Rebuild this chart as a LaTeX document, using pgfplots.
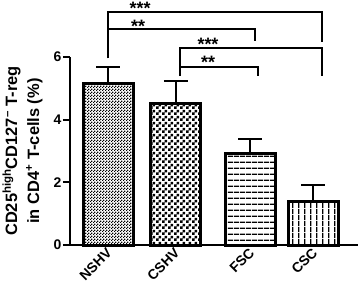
\documentclass[border=0pt]{standalone}
\usepackage{fontspec}
\setmainfont{Liberation Sans}
\usepackage{pgfplots}
\pgfplotsset{compat=1.18}
\usetikzlibrary{patterns.meta}
\pgfdeclarepattern{name=finecheck, type=uncolored, bottom left={\pgfpoint{0bp}{0bp}}, top right={\pgfpoint{3bp}{3bp}}, tile size={\pgfpoint{3bp}{3bp}}, code={\pgfpathrectangle{\pgfpointorigin}{\pgfpoint{1.5bp}{1.5bp}}\pgfpathrectangle{\pgfpoint{1.5bp}{1.5bp}}{\pgfpoint{1.5bp}{1.5bp}}\pgfusepath{fill}}}
\pgfdeclarepattern{name=coarsecheck, type=uncolored, bottom left={\pgfpoint{0bp}{0bp}}, top right={\pgfpoint{6bp}{6bp}}, tile size={\pgfpoint{6bp}{6bp}}, code={\pgfpathrectangle{\pgfpointorigin}{\pgfpoint{3bp}{3bp}}\pgfpathrectangle{\pgfpoint{3bp}{3bp}}{\pgfpoint{3bp}{3bp}}\pgfusepath{fill}}}
\pgfdeclarepattern{name=hlines, type=uncolored, bottom left={\pgfpoint{0bp}{0bp}}, top right={\pgfpoint{6bp}{6bp}}, tile size={\pgfpoint{6bp}{6bp}}, code={\pgfpathrectangle{\pgfpointorigin}{\pgfpoint{6bp}{1.5bp}}\pgfusepath{fill}}}
\pgfdeclarepattern{name=vlines, type=uncolored, bottom left={\pgfpoint{0bp}{0bp}}, top right={\pgfpoint{5.5bp}{5.5bp}}, tile size={\pgfpoint{5.5bp}{5.5bp}}, code={\pgfpathrectangle{\pgfpointorigin}{\pgfpoint{1.6bp}{5.5bp}}\pgfusepath{fill}}}
\begin{document}
\begin{tikzpicture}
\begin{axis}[
  scale only axis, width=288bp, height=188bp,
  xmin=-0.555, xmax=3.65, ymin=0, ymax=6,
  axis lines=left, axis line style={-, line width=2.5bp},
  clip=false,
  ytick={0,2,4,6}, tick align=outside, major tick length=7bp,
  ytick style={line width=2bp, black},
  xtick={0,0.99,2.08,3}, xticklabels={NSHV,CSHV,FSC,CSC},
  xtick style={draw=none},
  yticklabel style={font=\bfseries\fontsize{14}{16}\selectfont, inner sep=1.5bp},
  xticklabel style={font=\bfseries\fontsize{14}{16}\selectfont, rotate=45, anchor=east, inner sep=1bp, xshift=3bp},
  /pgf/number format/assume math mode=true,
  ylabel={CD25\textsuperscript{high}CD127\textsuperscript{--} T-reg\\in CD4\textsuperscript{+} T-cells (\%)},
  ylabel style={align=center, font=\bfseries\fontsize{16.5}{22}\selectfont, inner sep=0pt, at={(axis description cs:-0.095,0.5)}, anchor=south},
]
\addplot[ybar, bar width=0.73, bar shift=0pt, draw=black, line width=3bp, pattern=finecheck,
  error bars/.cd, y dir=plus, y explicit, error bar style={line width=2bp, solid}, error mark options={rotate=90, mark size=12bp, line width=2bp, black}]
  coordinates {(0,5.16) +- (0,0.52)};
\addplot[ybar, bar width=0.73, bar shift=0pt, draw=black, line width=3bp, pattern=coarsecheck,
  error bars/.cd, y dir=plus, y explicit, error bar style={line width=2bp, solid}, error mark options={rotate=90, mark size=12bp, line width=2bp, black}]
  coordinates {(0.99,4.53) +- (0,0.70)};
\addplot[ybar, bar width=0.73, bar shift=0pt, draw=black, line width=3bp, pattern=hlines,
  error bars/.cd, y dir=plus, y explicit, error bar style={line width=2bp, solid}, error mark options={rotate=90, mark size=12bp, line width=2bp, black}]
  coordinates {(2.08,2.91) +- (0,0.46)};
\addplot[ybar, bar width=0.73, bar shift=0pt, draw=black, line width=3bp, pattern=vlines,
  error bars/.cd, y dir=plus, y explicit, error bar style={line width=2bp, solid}, error mark options={rotate=90, mark size=12bp, line width=2bp, black}]
  coordinates {(3,1.40) +- (0,0.51)};
% significance brackets
\addplot[black, line width=2bp, no marks] coordinates {(0,5.96) (0,7.44) (3.12,7.44) (3.12,6.49)};
\addplot[black, line width=2bp, no marks] coordinates {(0,6.88) (2.15,6.88) (2.15,6.50)};
\addplot[black, line width=2bp, no marks] coordinates {(1.05,5.39) (1.05,6.28) (3.12,6.28) (3.12,5.39)};
\addplot[black, line width=2bp, no marks] coordinates {(1.05,5.69) (2.19,5.69) (2.19,5.39)};
\node[font=\bfseries\fontsize{18}{18}\selectfont, inner sep=0pt] at (axis cs:0.47,7.56) {***};
\node[font=\bfseries\fontsize{18}{18}\selectfont, inner sep=0pt] at (axis cs:0.44,6.97) {**};
\node[font=\bfseries\fontsize{18}{18}\selectfont, inner sep=0pt] at (axis cs:1.46,6.39) {***};
\node[font=\bfseries\fontsize{18}{18}\selectfont, inner sep=0pt] at (axis cs:1.46,5.83) {**};
\coordinate (bl) at (axis cs:-1.577,-1.372);
\coordinate (tr) at (axis cs:3.65,7.82);
\end{axis}
\pgfresetboundingbox
\path[use as bounding box] (bl) rectangle (tr);
\end{tikzpicture}
\end{document}
